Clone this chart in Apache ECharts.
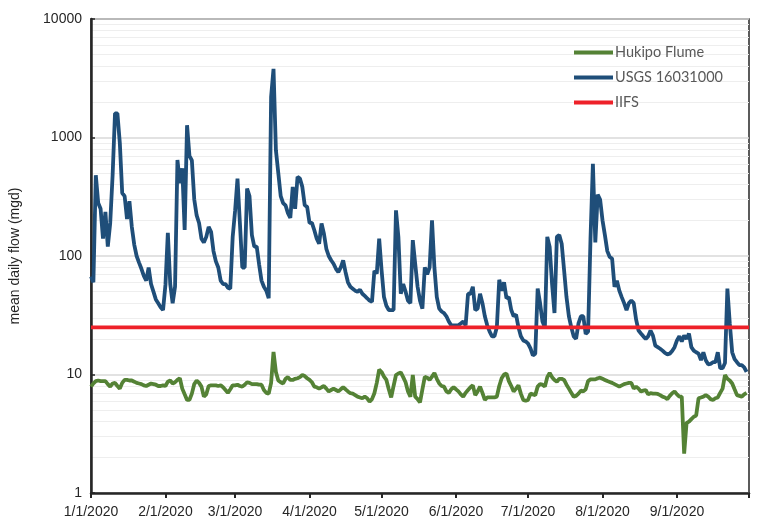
<!DOCTYPE html>
<html><head><meta charset="utf-8">
<script src="https://cdn.jsdelivr.net/npm/echarts@6/dist/echarts.min.js"></script>
<style>html,body{margin:0;padding:0;background:#fff}#c{width:760px;height:529px}</style>
</head><body><div id="c"></div>
<script>
// day index 0 = 1/1/2020
const tickDays = [0,31,60,91,121,152,182,213,244,274];
const tickLabels = ['1/1/2020','2/1/2020','3/1/2020','4/1/2020','5/1/2020','6/1/2020','7/1/2020','8/1/2020','9/1/2020',''];
const yTicks = [1,10,100,1000,10000];
const iifs = 25;

const usgs = [
67,60,480,280,250,140,236,120,190,480,
1600,1600,900,340,320,205,290,176,125,100,
88,78,68,62,80,58,50,43,40,37,
35,57,157,58,40,55,645,411,550,166,
1270,700,640,300,220,190,140,130,145,176,
160,110,90,80,62,58,58,54,53,145,
240,450,190,80,80,370,320,150,120,120,
85,62,55,51,44,2200,3800,780,500,320,
280,268,230,210,383,250,465,450,383,268,
260,190,190,165,140,127,188,154,115,100,
92,86,78,73,80,92,73,60,55,53,
51,50,52,48,46,44,42,41,75,71,
140,76,45,38,35,35,35,243,145,48,
58,50,42,40,136,86,55,42,36,80,
70,80,200,80,45,36,34,33,31,28,
26,26,26,26,27,28,26,48,48,55,
35,36,48,40,31,26,23,21,21,25,
63,51,60,44,45,35,31,32,25,21,
19.4,19,18.2,16.6,14.5,15,53,40,28,25,
145,119,58,33,145,150,127,76,45,31,
25,21,20,27,31,31,22,23,140,600,
130,330,300,200,150,110,98,95,55,62,
51,45,40,35,40,42,40,29,23.5,22.2,
21,20,21,23.5,21.3,17.5,17,16.5,15.9,15.2,
14.8,15,15.8,17,19.4,21,19,21.3,20,22.2,
17,15.9,15.4,15,13.2,15.4,13.2,12.2,12.3,12.7,
12.7,15.4,11.3,11.3,12.5,53,27,15.4,13.5,12.7,
12,12,11.5,10.5
];

const hukipo = [
7.9,8.4,8.8,8.9,8.8,8.8,8.8,8.3,7.9,8.4,
8.5,8.0,7.6,8.5,9.0,9.0,8.9,8.9,8.7,8.5,
8.4,8.3,8.1,8.0,8.2,8.4,8.3,8.2,8.0,8.0,
8.1,8.0,8.7,8.9,8.4,8.6,9.0,9.3,7.6,6.8,
6.1,6.1,6.9,8.3,8.9,8.5,7.9,6.5,6.8,8.0,
8.1,8.1,8.1,8.0,8.1,7.8,7.4,7.0,7.5,8.1,
8.1,8.2,8.0,7.9,8.2,8.6,8.5,8.3,8.3,8.3,
8.2,8.2,7.4,7.0,6.9,8.5,15.5,10.5,8.9,8.6,
8.4,9.2,9.5,9.0,9.0,9.2,9.3,9.5,9.9,9.7,
9.3,9.0,8.6,7.9,7.8,7.6,7.8,8.0,7.6,7.2,
7.4,7.6,7.4,7.2,7.5,7.8,7.5,7.2,6.95,6.9,
6.7,6.5,6.4,6.3,6.5,6.3,5.9,6.2,6.95,8.5,
11.0,10.5,9.6,9.0,7.5,6.4,8.0,9.9,10.2,10.4,
9.5,8.6,7.2,6.5,9.9,6.5,6.2,5.8,7.5,9.55,
9.4,9.0,9.6,10.3,9.2,8.4,8.0,7.9,7.2,7.0,
7.5,7.8,7.5,7.2,6.8,6.5,7.0,7.4,7.8,8.1,
6.7,7.2,7.9,7.0,6.1,6.4,6.4,6.4,6.4,6.5,
8.0,9.3,10.0,10.2,8.8,8.0,7.2,7.6,8.1,6.9,
6.1,6.0,6.1,6.9,6.8,6.7,7.9,8.3,8.2,7.9,
9.5,10.3,9.5,9.0,8.7,9.2,9.2,9.0,8.2,7.6,
7.0,6.5,6.6,6.9,7.3,7.2,7.5,8.8,9.1,9.1,
9.1,9.3,9.4,9.2,9.0,8.8,8.65,8.5,8.3,8.1,
7.9,8.1,8.3,8.4,8.5,8.5,7.6,7.9,7.6,7.2,
7.3,7.4,6.8,6.95,6.9,6.9,6.85,6.7,6.5,6.4,
6.2,6.6,6.95,7.2,6.8,6.5,6.5,2.15,3.9,4.0,
4.2,4.4,4.5,6.3,6.4,6.5,6.7,6.5,6.2,6.1,
6.3,6.4,7.0,7.6,9.9,9.2,8.9,8.4,7.5,6.7,
6.6,6.5,6.8,7.0
];

const minorLines = [];
[1,10,100,1000].forEach(b => { for (let k = 2; k <= 9; k++) minorLines.push({yAxis: b*k}); });

const chart = echarts.init(document.getElementById('c'));
const FONT = 'Liberation Sans Narrow, Liberation Sans, Arial, sans-serif';
chart.setOption({
  animation: false,
  backgroundColor: '#fff',
  grid: {left: 89, right: 11, top: 19, bottom: 36, show: true, borderColor: '#262626', borderWidth: 1.5, backgroundColor: 'transparent'},
  legend: {
    left: 569, top: 40, orient: 'vertical', itemGap: 10, itemWidth: 39, itemHeight: 4, icon: 'rect', z: 10,
    textStyle: {fontFamily: 'Lato, Open Sans, sans-serif', fontSize: 14.5, color: '#595959', padding: [0,0,0,-3]},
    data: ['Hukipo Flume','USGS 16031000','IIFS']
  },
  xAxis: {
    type: 'value', min: 0, max: 274,
    axisLine: {show: true, onZero: false, lineStyle: {color: '#262626', width: 2.5}},
    axisTick: {show: true, customValues: tickDays, length: 5, lineStyle: {color: '#262626', width: 2}},
    axisLabel: {show: true, customValues: tickDays.slice(0, 9), margin: 12, fontFamily: FONT, fontSize: 14, color: '#262626',
      formatter: v => tickLabels[tickDays.indexOf(v)]},
    splitLine: {show: false}
  },
  yAxis: {
    type: 'log', logBase: 10, min: 1, max: 10000,
    name: 'mean daily flow (mgd)', nameLocation: 'middle', nameGap: 69, nameRotate: 90,
    nameTextStyle: {fontFamily: 'Liberation Sans Narrow, Liberation Sans, Arial, sans-serif', fontSize: 14, color: '#262626'},
    axisLine: {show: true, lineStyle: {color: '#262626', width: 2.5}},
    axisTick: {show: true, inside: true, length: 4, lineStyle: {color: '#262626', width: 1.5}},
    axisLabel: {fontFamily: 'Liberation Sans, Arial, sans-serif', fontSize: 14, color: '#262626', margin: 9,
      formatter: v => String(Math.round(v))},
    splitLine: {show: true, lineStyle: {color: '#d9d9d9', width: 1.5}}
  },
  series: [
    {name: 'minor', type: 'line', data: [], z: 0, silent: true,
      markLine: {silent: true, z: 0, symbol: 'none', label: {show: false}, animation: false,
        lineStyle: {color: '#eeeeee', width: 1.2, type: 'solid'}, data: minorLines}},
    {name: 'Hukipo Flume', type: 'line', data: hukipo.map((v,i)=>[i,v]), showSymbol: false, symbol: 'none',
      lineStyle: {color: '#548235', width: 3.8}, itemStyle: {color: '#548235'}, z: 4},
    {name: 'USGS 16031000', type: 'line', data: usgs.map((v,i)=>[i,v]), showSymbol: false, symbol: 'none',
      lineStyle: {color: '#1f4e79', width: 3.8}, itemStyle: {color: '#1f4e79'}, z: 5},
    {name: 'IIFS', type: 'line', data: [[0, iifs],[274, iifs]], showSymbol: false, symbol: 'none',
      lineStyle: {color: '#ee2129', width: 3.8}, itemStyle: {color: '#ee2129'}, z: 6}
  ]
});
</script></body></html>
